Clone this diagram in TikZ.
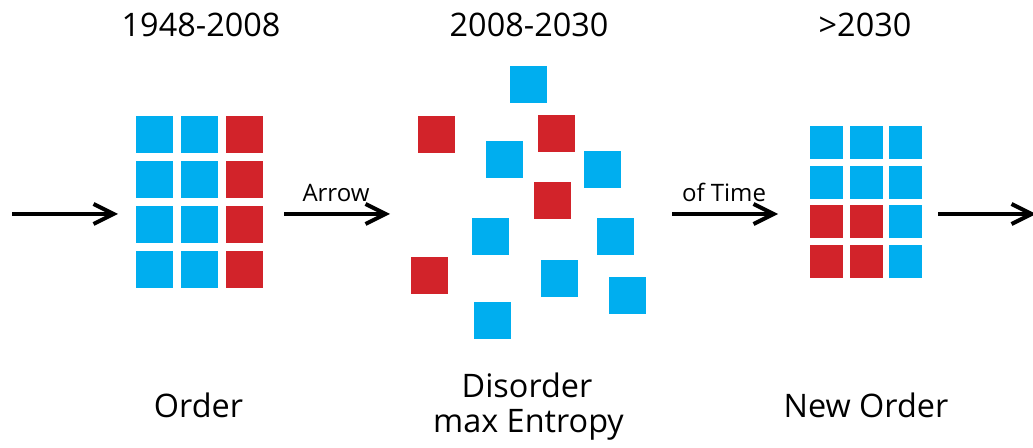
\documentclass[tikz,border=0pt]{standalone}
\usepackage{fontspec}
\setmainfont{Open Sans}
\usetikzlibrary{arrows.meta}
\definecolor{sqblue}{HTML}{00AEEF}
\definecolor{sqred}{HTML}{D2232A}

\begin{document}
\begin{tikzpicture}[x=0.5pt, y=-0.5pt,
    flow/.style={line width=2pt, -{Straight Barb[length=10pt, width=10pt]}},
    era/.style={anchor=base, font=\fontsize{16.2}{20}\selectfont},
    tag/.style={anchor=base, font=\fontsize{12}{14}\selectfont}]
    \useasboundingbox (0, 0) rectangle (1033, 448);
    % order
    \foreach \col/\c in {0/sqblue, 1/sqblue, 2/sqred}
      \foreach \row in {0, ..., 3}
        \fill[\c] ({136 + 45*\col}, {116 + 45*\row}) rectangle ++(37, 37);
    % disorder
    \foreach \x/\y/\c in {510/66/sqblue, 418/116/sqred, 538/115/sqred,
                          486/141/sqblue, 584/151/sqblue, 534/182/sqred,
                          472/218/sqblue, 597/218/sqblue, 411/257/sqred,
                          541/260/sqblue, 609/277/sqblue, 474/302/sqblue}
      \fill[\c] (\x, \y) rectangle ++(37, 37);
    % new order
    \foreach \row/\c in {0/sqblue, 1/sqblue, 2/sqred, 3/sqred} {
      \foreach \col in {0, 1}
        \fill[\c] ({810 + 39.5*\col}, {126 + 39.7*\row}) rectangle ++(33, 33);
      \fill[sqblue] (889, {126 + 39.7*\row}) rectangle ++(33, 33);
    }
    \coordinate (in) at (12, 214);     \coordinate (in end) at (118, 214);
    \coordinate (mid) at (284, 214);   \coordinate (mid end) at (390, 214);
    \coordinate (late) at (672, 214);  \coordinate (late end) at (778, 214);
    \coordinate (out) at (938, 214);   \coordinate (out end) at (1036, 214);
    \draw[flow] (in) -- (in end);
    \draw[flow] (mid) -- (mid end);
    \draw[flow] (late) -- (late end);
    \draw[flow] (out) -- (out end);
    \node[tag] (arrow) at (336, 202) {Arrow};
    \node[tag] (time) at (724, 202) {of Time};
    \node[era] (y1) at (201, 37) {1948-2008};
    \node[era] (y2) at (529, 37) {2008-2030};
    \node[era] (y3) at (865, 37) {>2030};
    \node[era] (order) at (198.5, 418) {Order};
    \node[era] (disorder) at (527, 398) {Disorder};
    \node[era] (entropy) at (528.5, 433) {max Entropy};
    \node[era] (neworder) at (866, 418) {New Order};
  \end{tikzpicture}
\end{document}
